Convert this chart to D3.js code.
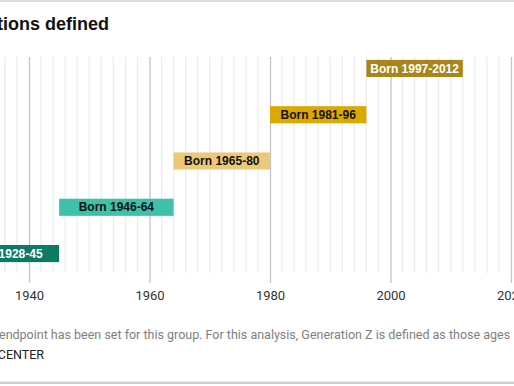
<!DOCTYPE html>
<html><head><meta charset="utf-8">
<script src="https://cdn.jsdelivr.net/npm/d3@7"></script>
<style>html,body{margin:0;padding:0;background:#fff;overflow:hidden}</style>
</head><body><svg id="c" width="514" height="386"></svg>
<script>
const generations = ["Silent", "Boomers", "Gen X", "Millennials", "Gen Z"];
const startYears = [1928, 1946, 1965, 1981, 1997];
const endYears = [1945, 1964, 1980, 1996, 2012];
const labels = ["Born 1928-45", "Born 1946-64", "Born 1965-80", "Born 1981-96", "Born 1997-2012"];
const tickYears = [1940, 1960, 1980, 2000, 2020];
const colors = ["#0c7a66", "#3ec0aa", "#ebc977", "#dca900", "#a8861a"];
const textColors = ["#fff", "#111", "#111", "#111", "#fff"];

const svg = d3.select("#c");
const x = d3.scaleLinear().domain([1940, 2020]).range([29, 511]);
const y = d3.scaleBand().domain(generations.slice().reverse()).range([46, 276]).paddingInner(0.63).paddingOuter(0.3);

// borders
svg.append("line").attr("x1",0).attr("x2",514).attr("y1",1).attr("y2",1).attr("stroke","#cfcfcf").attr("stroke-width",1.5);
svg.append("rect").attr("x",0).attr("y",381.5).attr("width",514).attr("height",2.5).attr("fill","#cfcfcf");

// title
svg.append("text").attr("x",109).attr("y",30).attr("text-anchor","end")
  .style("font-family","Liberation Sans, Arial, sans-serif").style("font-weight","bold").style("font-size","18px").attr("fill","#111")
  .text("The generations defined");

// grid
const minor = d3.range(1926, 2021, 2).filter(d => d % 20 !== 0);
svg.append("g").selectAll("line").data(minor).join("line")
  .attr("x1",d=>x(d)).attr("x2",d=>x(d)).attr("y1",57).attr("y2",273)
  .attr("stroke","#ececec").attr("stroke-width",1.2);
const axis = d3.axisBottom(x).tickValues(tickYears).tickFormat(d3.format("d")).tickSize(226).tickPadding(8);
const ag = svg.append("g").attr("transform","translate(0,57)").call(axis);
ag.select(".domain").remove();
ag.selectAll(".tick line").attr("stroke","#c4c4c4").attr("stroke-width",1.3);
ag.selectAll(".tick text").attr("fill","#333").style("font-family","Roboto, sans-serif").style("font-size","13px");

// bars
const bars = svg.append("g").selectAll("g").data(generations).join("g");
bars.append("rect")
  .attr("x",(d,i)=>x(startYears[i]-1)).attr("width",(d,i)=>x(endYears[i])-x(startYears[i]-1))
  .attr("y",d=>y(d)).attr("height",y.bandwidth())
  .attr("fill",(d,i)=>colors[i]);
bars.append("text")
  .attr("x",(d,i)=>(x(startYears[i]-1)+x(endYears[i]))/2).attr("y",d=>y(d)+y.bandwidth()/2+4.2)
  .attr("text-anchor","middle").attr("fill",(d,i)=>textColors[i])
  .style("font-family","Liberation Sans, Arial, sans-serif").style("font-weight","bold").style("font-size","12px")
  .text((d,i)=>labels[i]);

// note & source
svg.append("text").attr("x",-1).attr("y",339).attr("fill","#808080")
  .style("font-family","Roboto, sans-serif").style("font-size","12.5px")
  .text("endpoint has been set for this group. For this analysis, Generation Z is defined as those ages");
svg.append("text").attr("x",44).attr("y",359).attr("text-anchor","end").attr("fill","#222")
  .style("font-family","Roboto, sans-serif").style("font-size","12.5px")
  .text("PEW RESEARCH CENTER");
</script></body></html>
